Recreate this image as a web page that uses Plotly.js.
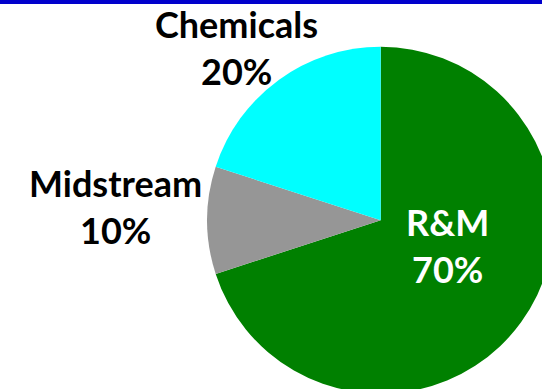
<!DOCTYPE html>
<html>
<head>
<meta charset="utf-8">
<script src="https://cdn.plot.ly/plotly-3.0.1.min.js"></script>
<style>
  html, body { margin: 0; padding: 0; overflow: hidden; background: #ffffff; }
  #chart { position: absolute; left: 0; top: 0; width: 600px; height: 420px; }
</style>
</head>
<body>
<div id="chart"></div>
<script>
// Segment share of the business
const segments = ['R&M', 'Midstream', 'Chemicals'];
const shares = [70, 10, 20];
const sliceColors = ['#008000', '#969696', '#00FFFF'];
const labelColors = ['#ffffff', '#000000', '#000000'];

// Label placement (pixel centres of the name line and the percent line)
const W = 600, H = 420;
const labelX = [447, 115, 236];
const nameY = [222, 183, 24];
const pctY = [269, 230, 71];

const px = x => x / W;
const py = y => 1 - y / H;

// Pie: centre (380.7, 220.3), radius 173.5 px; it runs past the right and bottom edges
const cx = 380.7, cy = 220.3, r = 173.5;

const trace = {
  type: 'pie',
  labels: segments,
  values: shares,
  sort: false,
  direction: 'clockwise',
  rotation: 0,
  textinfo: 'none',
  hoverinfo: 'label+percent',
  marker: { colors: sliceColors, line: { width: 0 } },
  domain: { x: [px(cx - r), px(cx + r)], y: [py(cy + r), py(cy - r)] },
  showlegend: false
};

const font = { family: 'Lato, "Open Sans", sans-serif', size: 36, weight: 700 };
const annotations = [];
segments.forEach((name, i) => {
  annotations.push({
    xref: 'paper', yref: 'paper', x: px(labelX[i]), y: py(nameY[i]),
    xanchor: 'center', yanchor: 'middle', showarrow: false,
    text: '<b>' + name.replace('&', '&amp;') + '</b>',
    font: Object.assign({}, font, { color: labelColors[i] })
  });
  annotations.push({
    xref: 'paper', yref: 'paper', x: px(labelX[i]), y: py(pctY[i]),
    xanchor: 'center', yanchor: 'middle', showarrow: false,
    text: '<b>' + shares[i] + '%</b>',
    font: Object.assign({}, font, { color: labelColors[i] })
  });
});

const layout = {
  width: W, height: H,
  margin: { l: 0, r: 0, t: 0, b: 0 },
  paper_bgcolor: '#ffffff',
  plot_bgcolor: '#ffffff',
  annotations: annotations,
  shapes: [{
    type: 'rect', xref: 'paper', yref: 'paper',
    x0: 0, x1: 1, y0: py(4), y1: 1,
    fillcolor: '#0000CC', line: { width: 0 }, layer: 'above'
  }]
};

Plotly.newPlot('chart', [trace], layout, { displayModeBar: false, staticPlot: true });
</script>
</body>
</html>
